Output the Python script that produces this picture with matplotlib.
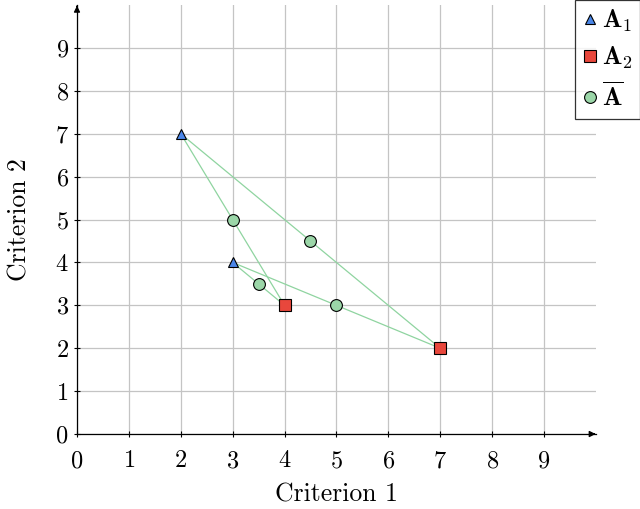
import numpy as np
import matplotlib
matplotlib.use('Agg')
import matplotlib.pyplot as plt

plt.rcParams['font.family'] = 'serif'
plt.rcParams['font.serif'] = ['cmr10', 'DejaVu Serif']
plt.rcParams['mathtext.fontset'] = 'cm'
plt.rcParams['axes.formatter.use_mathtext'] = True

# points
a1_x = [2, 3]
a1_y = [7, 4]
a2_x = [4, 7]
a2_y = [3, 2]
avg_x = [3, 4.5, 3.5, 5]
avg_y = [5, 4.5, 3.5, 3]
# segments joining A1 and A2 points (index pairs)
pairs = [(0, 0), (0, 1), (1, 0), (1, 1)]

line_col = '#8fd4a0'
fig = plt.figure(figsize=(6.4, 5.09), dpi=100)
ax = fig.add_axes([0.1203, 0.1473, 0.8107, 0.8427])

for i, j in pairs:
    ax.plot([a1_x[i], a2_x[j]], [a1_y[i], a2_y[j]], color=line_col, lw=0.9, zorder=2)

ax.plot(a1_x, a1_y, ls='none', marker='^', ms=7, mfc='#4a86e8', mec='black', mew=0.8,
        label=r'$\mathbf{A}_1$', zorder=3)
ax.plot(a2_x, a2_y, ls='none', marker='s', ms=8, mfc='#e8473c', mec='black', mew=0.8,
        label=r'$\mathbf{A}_2$', zorder=3)
ax.plot(avg_x, avg_y, ls='none', marker='o', ms=8.5, mfc='#9bd6a8', mec='black', mew=0.8,
        label=r'$\overline{\mathbf{A}}$', zorder=3)

ax.set_xlim(0, 10)
ax.set_ylim(0, 10)
ax.set_xticks(range(10))
ax.set_yticks(range(10))
ax.grid(True, color='#c4c4c4', lw=0.9)
ax.set_axisbelow(True)
for s in ['top', 'right']:
    ax.spines[s].set_visible(False)
ax.spines['left'].set_linewidth(0.9)
ax.spines['bottom'].set_linewidth(0.9)
ax.tick_params(direction='inout', length=5, width=0.8, labelsize=17.5)
ax.tick_params(axis='x', pad=9)

# axis arrows
ax.annotate('', xy=(1.005, 0), xytext=(0.99, 0), xycoords='axes fraction',
            arrowprops=dict(arrowstyle='-|>', color='black', lw=0.9, mutation_scale=9))
ax.annotate('', xy=(0, 1.005), xytext=(0, 0.99), xycoords='axes fraction',
            arrowprops=dict(arrowstyle='-|>', color='black', lw=0.9, mutation_scale=9))

ax.set_xlabel('Criterion 1', fontsize=18.5, labelpad=8)
ax.set_ylabel('Criterion 2', fontsize=18.5, labelpad=17)

leg = ax.legend(loc='upper right', bbox_to_anchor=(1.0 + 0.069 / 0.8107, 1.0 + 0.01 / 0.8427),
                fontsize=18.5, frameon=True, fancybox=False, edgecolor='black',
                handletextpad=0.15, handlelength=0.6, borderpad=0.3, labelspacing=0.42,
                borderaxespad=0)
leg.get_frame().set_linewidth(0.9)

fig.savefig('out.png', dpi=100)
